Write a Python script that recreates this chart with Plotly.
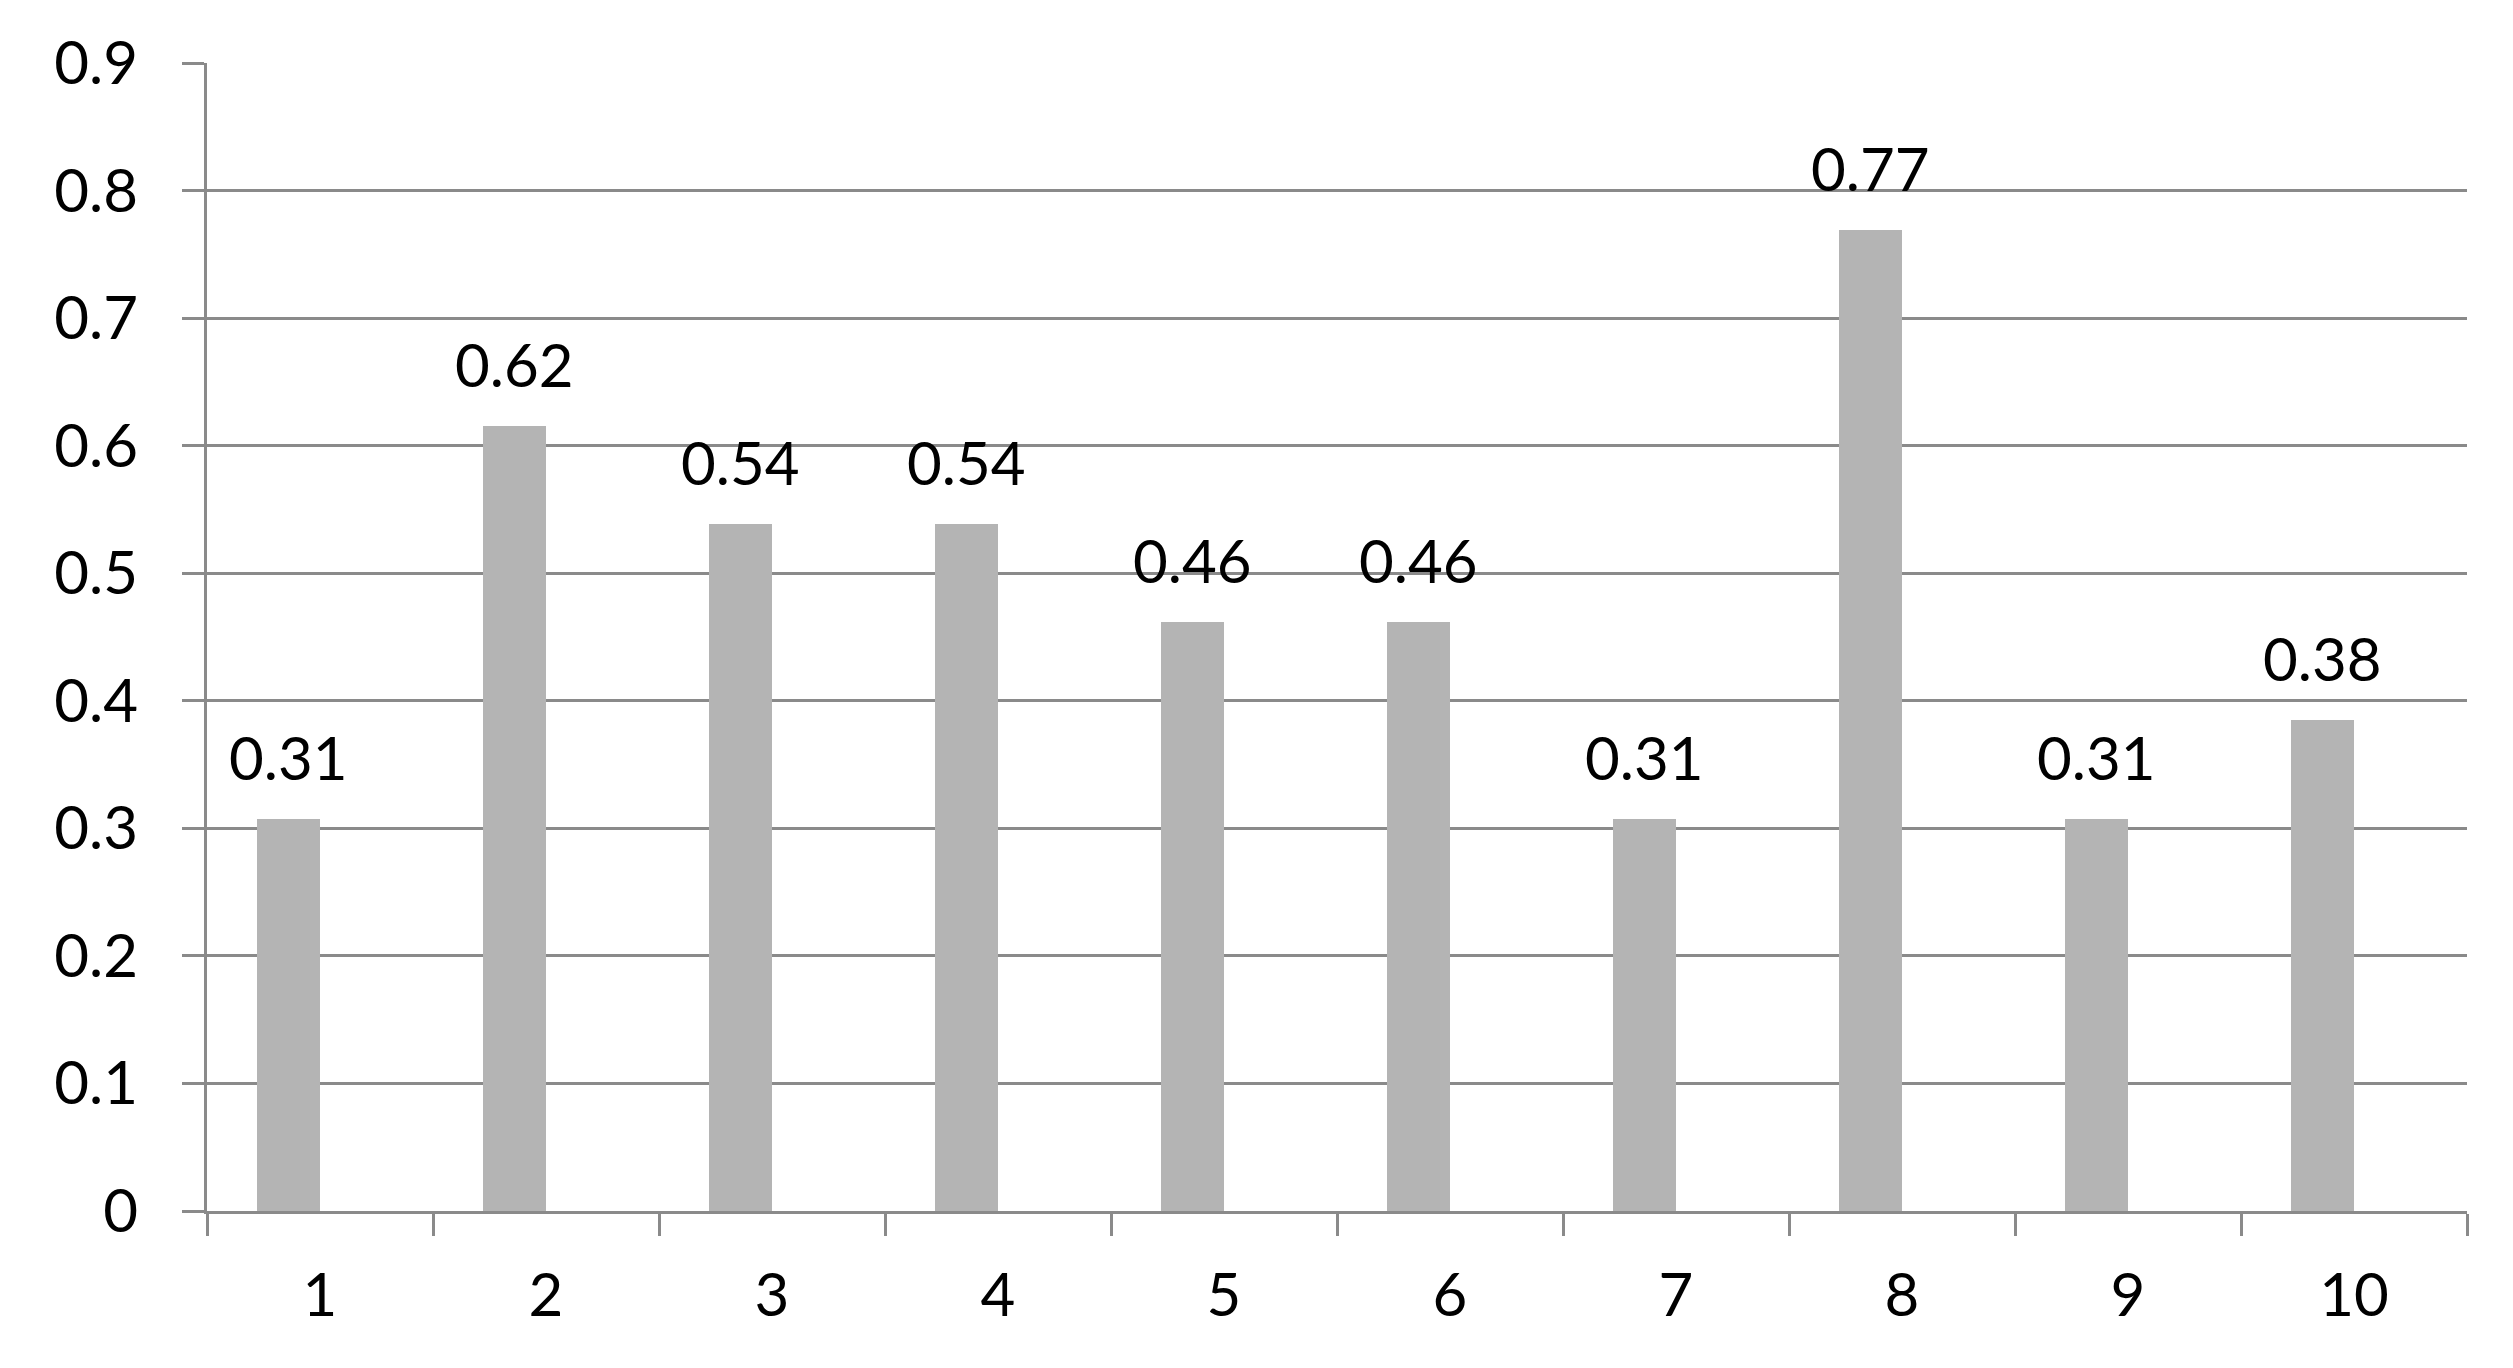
import plotly.graph_objects as go

categories = ["1", "2", "3", "4", "5", "6", "7", "8", "9", "10"]
values = [0.3077, 0.6154, 0.5385, 0.5385, 0.4615, 0.4615, 0.3077, 0.7692, 0.3077, 0.3846]
labels = ["0.31", "0.62", "0.54", "0.54", "0.46", "0.46", "0.31", "0.77", "0.31", "0.38"]
y_ticks = [0, 0.1, 0.2, 0.3, 0.4, 0.5, 0.6, 0.7, 0.8, 0.9]
y_tick_labels = ["0", "0.1", "0.2", "0.3", "0.4", "0.5", "0.6", "0.7", "0.8", "0.9"]

bar_w = 0.28
gray = "#8a8a8a"
font = dict(family="Lato, 'Open Sans', sans-serif", size=60, color="black")

fig = go.Figure()
fig.add_trace(go.Bar(x=categories, y=values,
                     width=bar_w, offset=-bar_w,
                     marker=dict(color="#b4b4b4", line=dict(width=0)),
                     showlegend=False))

# value labels above bars
for i, (v, t) in enumerate(zip(values, labels)):
    fig.add_annotation(x=i - bar_w / 2, y=v, text=t,
                       showarrow=False, yanchor="bottom", yshift=24,
                       font=font)

fig.update_layout(
    width=2513, height=1368,
    margin=dict(l=199, r=54, t=55, b=165),
    plot_bgcolor="white", paper_bgcolor="white",
    font=font,
    bargap=0,
)
fig.update_xaxes(type="category", tickson="boundaries",
                 ticks="outside", ticklen=22, tickwidth=3, tickcolor=gray,
                 showline=True, linecolor=gray, linewidth=3,
                 showgrid=False, ticklabelstandoff=30)
fig.update_yaxes(range=[0, 0.9], tickvals=y_ticks, ticktext=y_tick_labels,
                 ticks="outside", ticklen=22, tickwidth=3, tickcolor=gray,
                 showline=True, linecolor=gray, linewidth=3,
                 showgrid=True, gridcolor=gray, gridwidth=3,
                 zeroline=False, ticklabelstandoff=32)

fig.write_html("out.html")
